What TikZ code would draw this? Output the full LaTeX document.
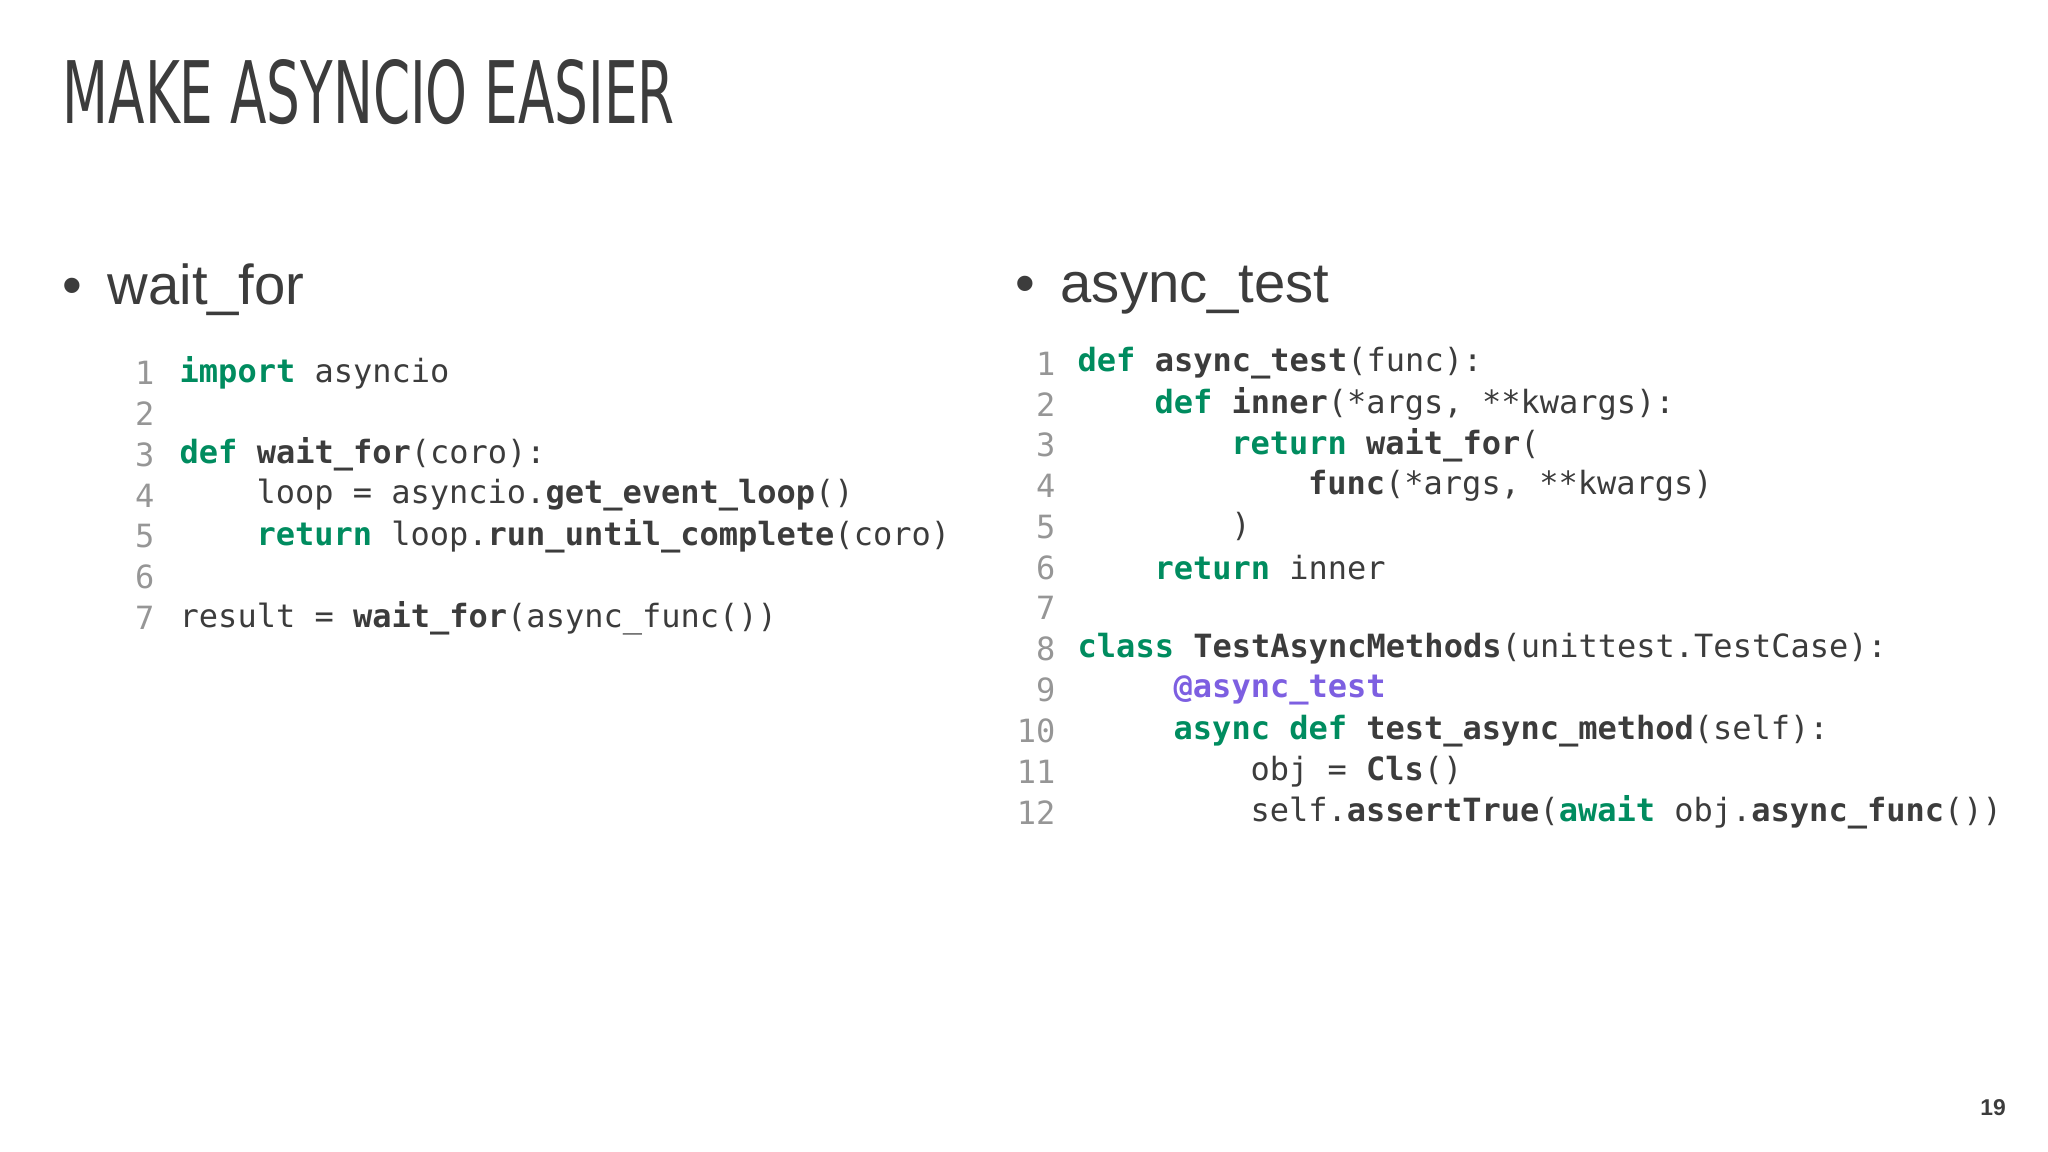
\documentclass[tikz,border=0pt]{standalone}
\usepackage{fontspec}
\setmainfont{Liberation Sans}
\newfontfamily\codefont{DejaVu Sans Mono}
\newfontfamily\titlefont{DejaVu Sans Condensed}
\usepackage{graphicx}
\definecolor{kwc}{RGB}{0,140,95}
\definecolor{dcc}{RGB}{125,95,225}
\definecolor{txc}{RGB}{60,60,60}
\definecolor{numc}{RGB}{150,150,150}
\newcommand{\kw}[1]{\textcolor{kwc}{\bfseries #1}}
\newcommand{\fn}[1]{{\bfseries #1}}
\newcommand{\dc}[1]{\textcolor{dcc}{\bfseries #1}}
\tikzset{code/.style={anchor=west,inner sep=0pt,font=\codefont\fontsize{9.1}{11}\selectfont,text=txc},
 num/.style={anchor=east,inner sep=0pt,font=\codefont\fontsize{9.1}{11}\selectfont,text=numc},
 bul/.style={anchor=west,inner sep=0pt,font=\fontsize{16}{18}\selectfont,text=txc}}
\begin{document}
\begin{tikzpicture}[x=0.01cm,y=-0.01cm]
\useasboundingbox (0,0) rectangle (2048,1152);
\node[anchor=south west,inner sep=0pt,text=txc] (title) at (62,125) {\resizebox{6.12cm}{0.64cm}{\titlefont MAKE ASYNCIO EASIER}};
\node[bul] (b1) at (62,290) {•\hspace{0.45em}wait\_for};
\node[bul] (b2) at (1015,290) {•\hspace{0.45em}async\_test};
% left code
\def\cw{19.2}
\foreach \n in {1,...,7} \node[num] (ln\n) at (155,{373+(\n-1)*40.8}) {\n};
\node[code] (l1) at (179,373) {\kw{import} asyncio};
\node[code] (l3) at (179,454.6) {\kw{def} \fn{wait\_for}(coro):};
\node[code] (l4) at (255.8,495.4) {loop = asyncio.\fn{get\_event\_loop}()};
\node[code] (l5) at (255.8,536.2) {\kw{return} loop.\fn{run\_until\_complete}(coro)};
\node[code] (l7) at (179,617.8) {result = \fn{wait\_for}(async\_func())};
% right code
\foreach \n in {1,...,12} \node[num] (rn\n) at (1056,{363.5+(\n-1)*40.8}) {\n};
\node[code] (r1) at (1077,363.5) {\kw{def} \fn{async\_test}(func):};
\node[code] (r2) at ({1077+4*\cw},404.3) {\kw{def} \fn{inner}(*args, **kwargs):};
\node[code] (r3) at ({1077+8*\cw},445.1) {\kw{return} \fn{wait\_for}(};
\node[code] (r4) at ({1077+12*\cw},485.9) {\fn{func}(*args, **kwargs)};
\node[code] (r5) at ({1077+8*\cw},526.7) {)};
\node[code] (r6) at ({1077+4*\cw},567.5) {\kw{return} inner};
\node[code] (r8) at (1077,649.1) {\kw{class} \fn{TestAsyncMethods}(unittest.TestCase):};
\node[code] (r9) at ({1077+5*\cw},689.9) {\dc{@async\_test}};
\node[code] (r10) at ({1077+5*\cw},730.7) {\kw{async} \kw{def} \fn{test\_async\_method}(self):};
\node[code] (r11) at ({1077+9*\cw},771.5) {obj = \fn{Cls}()};
\node[code] (r12) at ({1077+9*\cw},812.3) {self.\fn{assertTrue}(\kw{await} obj.\fn{async\_func}())};
\node[inner sep=0pt,text=txc,font=\bfseries\fontsize{6.5}{7}\selectfont] (pg) at (1993,1108) {19};
\end{tikzpicture}
\end{document}
